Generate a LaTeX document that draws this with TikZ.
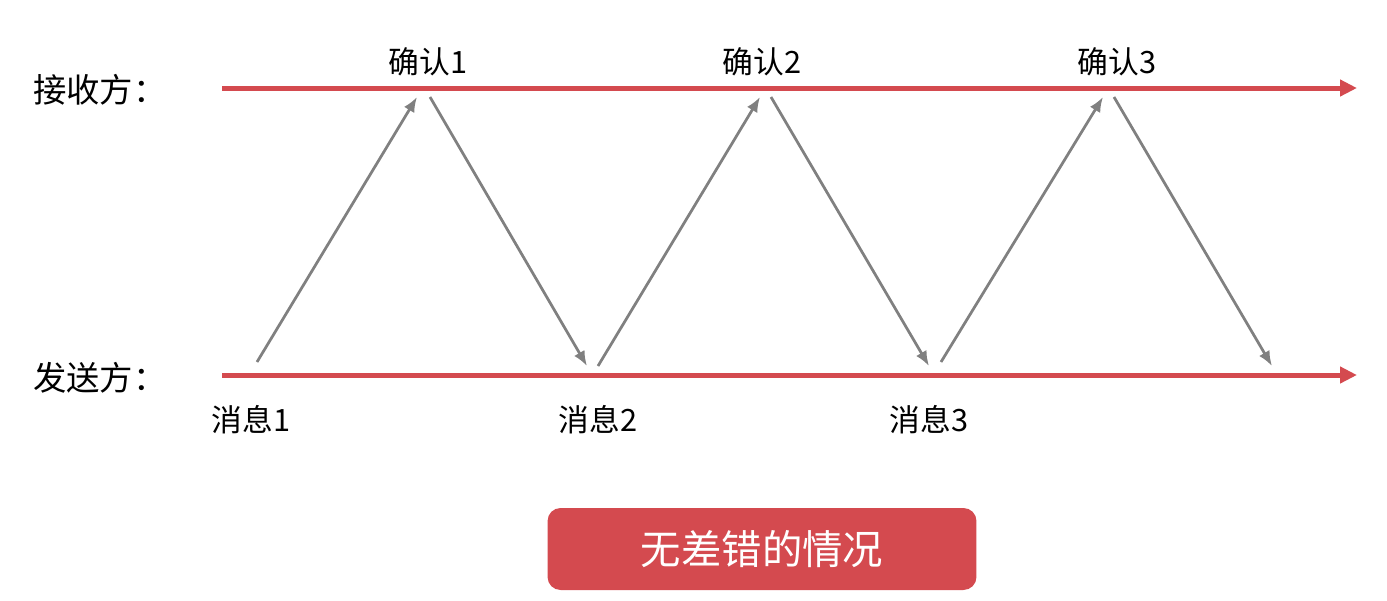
\documentclass[tikz,border=0pt]{standalone}
\usepackage{fontspec}
\setmainfont{Noto Sans CJK SC}
\usetikzlibrary{arrows.meta,positioning}
\definecolor{linered}{RGB}{212,74,79}
\definecolor{arrowgray}{RGB}{128,128,128}

\begin{document}
\begin{tikzpicture}[x=0.02cm,y=-0.02cm]
    \useasboundingbox (0,0) rectangle (1387,600);
    % time lines
    \coordinate (recvstart) at (222,88);
    \coordinate (recvend) at (1357,88);
    \coordinate (sendstart) at (222,375);
    \coordinate (sendend) at (1357,375);
    \draw[linered, line width=0.1cm, -{Triangle[length=0.34cm,width=0.32cm]}] (recvstart) -- (recvend);
    \draw[linered, line width=0.1cm, -{Triangle[length=0.34cm,width=0.32cm]}] (sendstart) -- (sendend);

    \node[font=\fontsize{19}{22}\selectfont] (recvlabel) at (100,90) {接收方：};
    \node[font=\fontsize{19}{22}\selectfont] (sendlabel) at (100,378) {发送方：};

    % message and ack points
    \coordinate (send1) at (257,362);
    \coordinate (recv1a) at (417,97);
    \coordinate (recv1b) at (430,97);
    \coordinate (send2a) at (587,366);
    \coordinate (send2b) at (598,366);
    \coordinate (recv2a) at (760,97);
    \coordinate (recv2b) at (771,97);
    \coordinate (send3a) at (929,366);
    \coordinate (send3b) at (941,362);
    \coordinate (recv3a) at (1103,97);
    \coordinate (recv3b) at (1114,97);
    \coordinate (send4) at (1272,366);

    \foreach \from/\to in {send1/recv1a, recv1b/send2a, send2b/recv2a, recv2b/send3a, send3b/recv3a, recv3b/send4}
    \draw[arrowgray, line width=0.055cm, -{Latex[length=0.3cm,width=0.24cm]}] (\from) -- (\to);

    % labels
    \node[font=\fontsize{17.5}{21}\selectfont] (ack1) at (428,62) {确认1};
    \node[font=\fontsize{17.5}{21}\selectfont] (ack2) at (762,62) {确认2};
    \node[font=\fontsize{17.5}{21}\selectfont] (ack3) at (1117,62) {确认3};
    \node[font=\fontsize{17.5}{21}\selectfont] (msg1) at (251,420) {消息1};
    \node[font=\fontsize{17.5}{21}\selectfont] (msg2) at (598,420) {消息2};
    \node[font=\fontsize{17.5}{21}\selectfont] (msg3) at (929,420) {消息3};

    % caption
    \node[fill=linered, rounded corners=0.26cm, minimum width=8.58cm, minimum height=1.64cm, text=white, font=\fontsize{23}{27}\selectfont] (caption) at (762,549) {无差错的情况};
  \end{tikzpicture}
\end{document}
